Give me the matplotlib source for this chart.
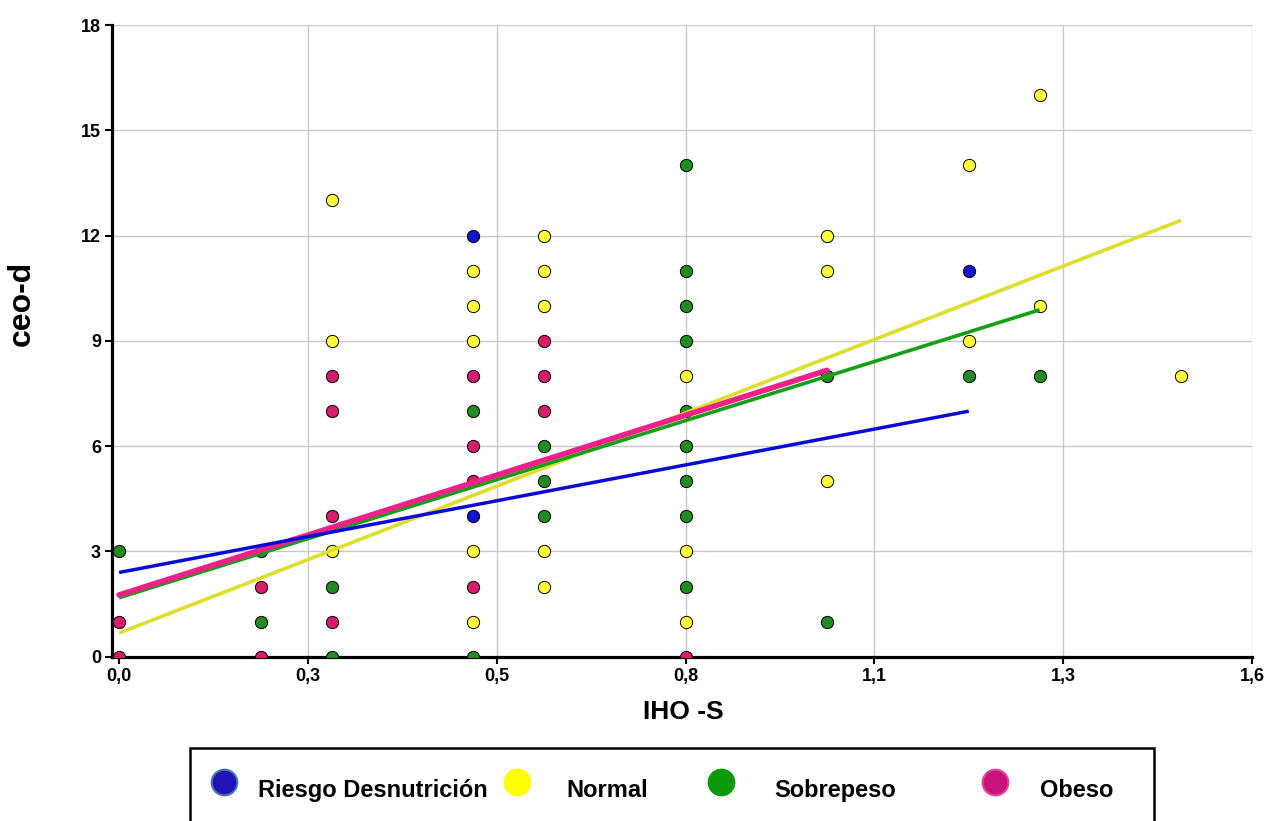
import matplotlib
matplotlib.use("Agg")
import matplotlib.pyplot as plt
import numpy as np
from matplotlib.patches import Rectangle
from matplotlib.lines import Line2D

plt.rcParams['font.family'] = ['Liberation Sans', 'DejaVu Sans']

# ---- data ----
groups = ["Riesgo Desnutrición", "Normal", "Sobrepeso", "Obeso"]

riesgo_x = [0.5, 0.5, 1.2]
riesgo_y = [12, 4, 11]

normal_x = [0.3, 0.3, 0.3,
            0.5, 0.5, 0.5, 0.5, 0.5,
            0.6, 0.6, 0.6, 0.6, 0.6,
            0.8, 0.8, 0.8,
            1.0, 1.0, 1.0,
            1.2, 1.2,
            1.3, 1.3,
            1.5]
normal_y = [13, 9, 3,
            11, 10, 9, 3, 1,
            12, 11, 10, 3, 2,
            8, 3, 1,
            12, 11, 5,
            14, 9,
            16, 10,
            8]

sobrepeso_x = [0.0, 0.2, 0.2, 0.3, 0.3, 0.5, 0.5,
               0.6, 0.6, 0.6,
               0.8, 0.8, 0.8, 0.8, 0.8, 0.8, 0.8, 0.8, 0.8,
               1.0, 1.0, 1.2, 1.3]
sobrepeso_y = [3, 3, 1, 2, 0, 7, 0,
               6, 5, 4,
               14, 11, 10, 9, 7, 6, 5, 4, 2,
               8, 1, 8, 8]

obeso_x = [0.0, 0.0, 0.2, 0.2, 0.3, 0.3, 0.3, 0.3,
           0.5, 0.5, 0.5, 0.5,
           0.6, 0.6, 0.6, 0.8]
obeso_y = [1, 0, 2, 0, 8, 7, 4, 1,
           8, 6, 5, 2,
           9, 8, 7, 0]

# trend lines: intercept, slope, x-end
trend_intercepts = [2.40, 0.675, 1.68, 1.76]
trend_slopes = [3.83, 7.84, 6.31, 6.40]
trend_xend = [1.2, 1.5, 1.3, 1.0]

x_ticks = np.linspace(0, 1.6, 7)
y_ticks = [0, 3, 6, 9, 12, 15, 18]

point_colors = ["#1414cc", "#ffff3c", "#228b22", "#d81b6a"]
line_colors = ["#0a0ad8", "#dede2c", "#14a014", "#f0208a"]
line_widths = [2.5, 2.6, 2.6, 4.0]
legend_face = ["#2212b8", "#ffff00", "#0a9a0a", "#c8147a"]
legend_edge = ["#4a78a8", "#ffff00", "#0a9a0a", "#e8409a"]

# ---- figure ----
fig = plt.figure(figsize=(12.74, 8.21), dpi=100)
ax = fig.add_axes([112 / 1274, (821 - 656.7) / 821, 1140 / 1274, 631.7 / 821])

xs = [riesgo_x, normal_x, sobrepeso_x, obeso_x]
ys = [riesgo_y, normal_y, sobrepeso_y, obeso_y]
for x, y, c in zip(xs, ys, point_colors):
    ax.scatter(x, y, s=78, c=c, edgecolors="black", linewidths=0.7, zorder=3)

order = [1, 2, 3, 0]
for i in order:
    xx = np.array([0.0, trend_xend[i]])
    yy = trend_intercepts[i] + trend_slopes[i] * xx
    ax.plot(xx, yy, color=line_colors[i], lw=line_widths[i], zorder=4 + order.index(i),
            solid_capstyle="round" if i == 3 else "butt")

ax.set_xlim(-0.01, 1.6)
ax.set_ylim(0, 18)
ax.set_xticks(x_ticks)
ax.set_xticklabels([f"{v:.1f}".replace(".", ",") for v in x_ticks],
                   fontsize=13, fontweight="bold")
ax.set_yticks(y_ticks)
ax.set_yticklabels([str(v) for v in y_ticks], fontsize=13, fontweight="bold")
ax.grid(True, color="#c8c8c8", lw=1.0, zorder=0)
ax.set_axisbelow(True)
ax.get_xgridlines()[0].set_visible(False)
for s in ["top", "right"]:
    ax.spines[s].set_visible(False)
for s in ["left", "bottom"]:
    ax.spines[s].set_linewidth(2.3)
    ax.spines[s].set_color("black")
ax.tick_params(axis="both", direction="out", length=5, width=1.5, color="black", pad=3)

fig.text(22 / 1274, 1 - 303 / 821, "ceo-d", rotation=90, fontsize=23,
         fontweight="bold", ha="center", va="center")
fig.text(683 / 1274, 1 - 712 / 821, "IHO -S", fontsize=19, fontweight="bold",
         ha="center", va="center")

# ---- legend box ----
fig.add_artist(Rectangle((190 / 1274, -0.05), (1154 - 190) / 1274, 0.05 + (821 - 748) / 821,
                         transform=fig.transFigure, fill=False, edgecolor="black",
                         lw=1.8, clip_on=False))
marker_x = [224, 517, 721, 995]
text_x = [258, 566, 774, 1040]
for lab, mx, tx, fc, ec in zip(groups, marker_x, text_x, legend_face, legend_edge):
    fig.add_artist(Line2D([mx / 1274], [1 - 782 / 821], marker="o", markersize=18.5,
                          markerfacecolor=fc, markeredgecolor=ec, markeredgewidth=1.5,
                          transform=fig.transFigure, linestyle="none"))
    fig.text(tx / 1274, 1 - 790 / 821, lab, fontsize=17, fontweight="bold",
             ha="left", va="center")

fig.savefig("out.png", dpi=100)
